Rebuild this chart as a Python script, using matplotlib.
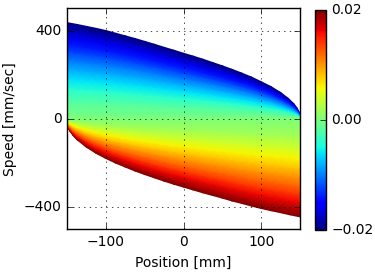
import numpy as np
import matplotlib
matplotlib.use("Agg")
import matplotlib.pyplot as plt

plt.style.use("classic")
plt.rcParams["font.size"] = 10
plt.rcParams["savefig.facecolor"] = "white"

# outer trajectory of the braking family (colour -0.02)
top_pos = [-150, -137.5, -125, -112.5, -100, -87.5, -75, -62.5, -50, -37.5, -25, -12.5,
           0, 12.5, 25, 37.5, 50, 62.5, 75, 87.5, 100, 112.5, 125, 135, 142, 146, 148.5, 149.5, 150]
top_speed = [436, 428, 419, 410, 400, 388, 376, 364, 351, 338, 324, 311,
             297, 284, 270, 255, 240, 224, 207, 189, 168, 146, 119, 92, 68, 49, 32, 21, 12]

# outer trajectory of the accelerating family (colour +0.02)
bot_pos = [-150, -149.5, -148.5, -146, -142, -137.5, -125, -112.5, -100, -87.5, -75, -62.5,
           -50, -37.5, -25, -12.5, 0, 12.5, 25, 37.5, 50, 62.5, 75, 87.5, 100, 112.5, 125, 137.5, 150]
bot_speed = [-30, -35, -43, -58, -77, -94, -129, -157, -180, -201, -219, -237,
             -253, -268, -283, -297, -310, -323, -336, -348, -360, -373, -384, -396, -407, -417, -426, -436, -445]

# colour level of each trajectory and its share of the outer speed
levels = [0.020, 0.018, 0.016, 0.014, 0.012, 0.010, 0.008, 0.006, 0.004, 0.002, 0.0]
share = [1.000, 0.924, 0.846, 0.765, 0.682, 0.595, 0.503, 0.405, 0.299, 0.178, 0.0]

fig = plt.figure(figsize=(3.75, 2.74), dpi=100)
fig.patch.set_facecolor("white")
ax = fig.add_axes([0.1787, 0.1642, 0.6213, 0.8048])
cax = fig.add_axes([0.840, 0.1606, 0.0293, 0.8030])

lev = np.array(levels)
sh = np.array(share)

# upper band (negative colours)
X = np.tile(np.array(top_pos, dtype=float), (len(lev), 1))
Y = np.outer(sh, top_speed)
C = np.tile(-lev[:, None], (1, len(top_pos)))
ax.pcolormesh(X, Y, C, cmap="jet", vmin=-0.02, vmax=0.02, shading="gouraud")

# lower band (positive colours)
X = np.tile(np.array(bot_pos, dtype=float), (len(lev), 1))
Y = np.outer(sh, bot_speed)
C = np.tile(lev[:, None], (1, len(bot_pos)))
m = ax.pcolormesh(X, Y, C, cmap="jet", vmin=-0.02, vmax=0.02, shading="gouraud")

ax.set_xlim(-150, 150)
ax.set_ylim(-500, 500)
ax.set_xticks([-100, 0, 100])
ax.set_yticks([-400, 0, 400])
ax.grid(True)
ax.set_xlabel("Position [mm]")
ax.set_ylabel("Speed [mm/sec]")

cb = fig.colorbar(m, cax=cax, ticks=[-0.02, 0.0, 0.02])

fig.savefig("out.png", dpi=100)
